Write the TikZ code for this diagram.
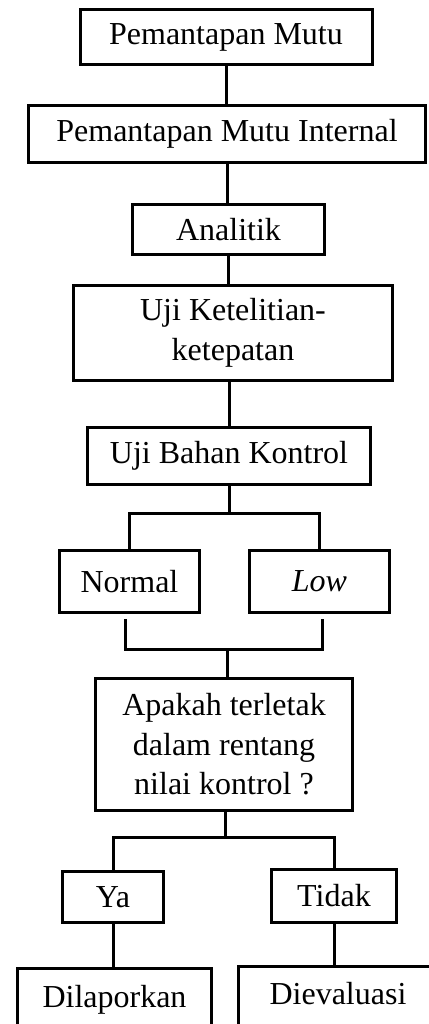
\documentclass[tikz,border=0pt]{standalone}
\usepackage{fontspec}
\setmainfont{Liberation Serif}

\begin{document}
\begin{tikzpicture}[x=1pt, y=-1pt, line width=3pt,
    box/.style={rectangle, draw, inner sep=0pt, align=center,
        font=\fontsize{32}{39.5}\selectfont},
    endbox/.style={box, text height=22pt, text depth=8pt}]
        \useasboundingbox (0,0) rectangle (428,1024);

        \node[box, minimum width=292pt, minimum height=55pt] (mutu) at (226,37)
            {Pemantapan Mutu};

        \node[box, minimum width=397pt, minimum height=57pt] (internal) at (227,134)
            {Pemantapan Mutu Internal};

        \node[box, minimum width=192pt, minimum height=50pt] (analitik) at (228.5,229.5)
            {Analitik};

        \node[box, minimum width=319pt, minimum height=95pt] (ketelitian) at (233,333)
            {Uji Ketelitian-\\ketepatan};

        \node[box, minimum width=283pt, minimum height=57pt] (bahan) at (229,456)
            {Uji Bahan Kontrol};

        \node[box, minimum width=140pt, minimum height=62pt] (normal) at (129.5,581.5)
            {Normal};

        \node[box, minimum width=140pt, minimum height=62pt] (low) at (319.5,581.5)
            {\itshape Low};

        \node[box, minimum width=257pt, minimum height=132pt] (apakah) at (224,744.5)
            {Apakah terletak\\dalam rentang\\nilai kontrol ?};

        \node[box, minimum width=101pt, minimum height=51pt] (ya) at (113,897)
            {Ya};

        \node[box, minimum width=125pt, minimum height=53pt] (tidak) at (334,896)
            {Tidak};

        \node[endbox, minimum width=194pt, minimum height=63pt] (lapor) at (114.5,1000)
            {Dilaporkan};

        \node[endbox, minimum width=200pt, minimum height=61pt] (evaluasi) at (338,997)
            {Dievaluasi};

        \coordinate (split_1) at (229,513);
        \coordinate (normal_end) at (125,619);
        \coordinate (low_end) at (322,619);
        \coordinate (join_1) at (227,649);
        \coordinate (split_2) at (225,837);

        \draw (mutu.south) -- (mutu.south |- internal.north);
        \draw (internal.south) -- (internal.south |- analitik.north);
        \draw (analitik.south) -- (analitik.south |- ketelitian.north);
        \draw (ketelitian.south -| bahan.north) -- (bahan.north);

        \draw (bahan.south) -- (split_1);
        \draw (normal.north) |- (split_1) -| (low.north);

        \draw (normal_end) |- (join_1) -| (low_end);
        \draw (join_1) -- (join_1 |- apakah.north);

        \draw (split_2 |- apakah.south) -- (split_2);
        \draw (ya.north) |- (split_2) -| (tidak.north);

        \draw (ya.south) -- (ya.south |- lapor.north);
        \draw (tidak.south) -- (tidak.south |- evaluasi.north);

    \end{tikzpicture}
\end{document}
